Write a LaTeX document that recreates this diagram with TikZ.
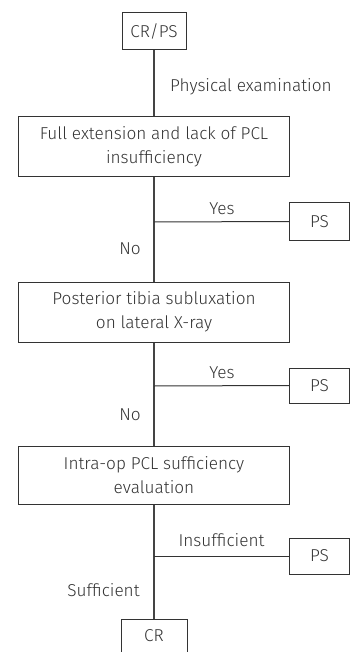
\documentclass[tikz,border=0pt]{standalone}
\usepackage{fontspec}
\setmainfont{Fira Sans}[UprightFont={* Light}]
\definecolor{ink}{HTML}{333333}
\definecolor{trunk}{HTML}{444444}
\begin{document}
\begin{tikzpicture}[x=1pt,y=-1pt,
  every node/.style={font=\fontsize{17.2}{24}\selectfont, text=ink},
  boxn/.style={draw=ink, line width=1pt, minimum width=271pt, minimum height=60pt, align=center, inner sep=0pt},
  smallbox/.style={draw=ink, line width=1pt, minimum width=64pt, minimum height=37pt, inner sep=0pt},
  psbox/.style={draw=ink, line width=1pt, minimum width=60pt, minimum height=37pt, inner sep=0pt},
  lbl/.style={inner sep=0pt},
  conn/.style={draw=trunk, line width=1.1pt}]
\useasboundingbox (0,0) rectangle (350,652);
\node[smallbox] (top) at (154,31.5) {CR/PS};
\node[boxn] (b1) at (154,147) {Full extension and lack of PCL\\insufficiency};
\node[boxn] (b2) at (154,312) {Posterior tibia subluxation\\on lateral X-ray};
\node[boxn, minimum height=58pt] (b3) at (154,475) {Intra-op PCL sufficiency\\evaluation};
\node[psbox] (ps1) at (319.5,221.5) {PS};
\node[psbox, minimum height=35pt] (ps2) at (319.5,385.5) {PS};
\node[psbox, minimum height=36pt] (ps3) at (319.5,556) {PS};
\node[smallbox, minimum width=66pt, minimum height=33pt] (cr) at (154,635.5) {CR};
\coordinate (j1) at (154,222);
\coordinate (j2) at (154,386);
\coordinate (j3) at (154,556);
\draw[conn] (top.south) -- (b1.north);
\draw[conn] (b1.south) -- (j1) -- (b2.north);
\draw[conn] (b2.south) -- (j2) -- (b3.north);
\draw[conn] (b3.south) -- (j3) -- (cr.north);
\draw[draw=ink, line width=1pt] (j1) -- (ps1.west);
\draw[draw=ink, line width=1pt] (j2) -- (ps2.west);
\draw[draw=ink, line width=1pt] (j3) -- (ps3.west);
\node[lbl, anchor=west] (pe) at (170,87) {Physical examination};
\node[lbl] (y1) at (222,209) {Yes};
\node[lbl] (n1) at (130,249) {No};
\node[lbl] (y2) at (222,373) {Yes};
\node[lbl] (n2) at (130,415) {No};
\node[lbl] (ins) at (221.5,540) {Insufficient};
\node[lbl] (suf) at (103.5,590) {Sufficient};
\end{tikzpicture}
\end{document}
